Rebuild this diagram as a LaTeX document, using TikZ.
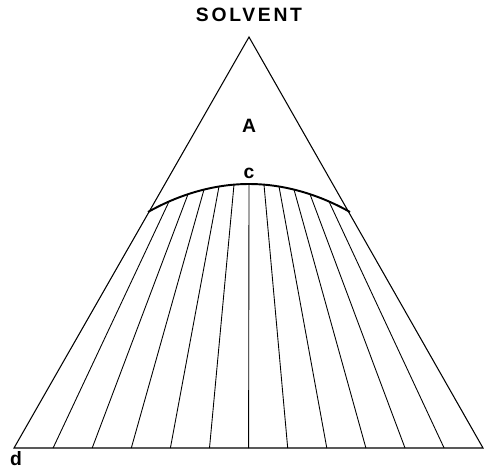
\documentclass[tikz,border=0pt]{standalone}
\usepackage{fontspec}
\newfontfamily\lblfont{Liberation Sans}
\usetikzlibrary{calc}

\begin{document}
\begin{tikzpicture}[
  x=0.02cm, y=-0.02cm,
  side/.style={line width=0.6pt, line join=miter},
  tie/.style={line width=0.5pt},
  binodal/.style={line width=1.1pt},
  lbl/.style={font=\lblfont\bfseries\fontsize{11}{13}\selectfont, inner sep=0pt},
  spaced/.style={font=\lblfont\bfseries\fontsize{11}{13}\selectfont\addfontfeature{LetterSpace=14}},
]
\useasboundingbox (0,0) rectangle (484,470);
%% Corners of the triangle
\coordinate (apex)  at (249,37);
\coordinate (left)  at (14,448);
\coordinate (right) at (483,448);
%% Ends and crest of the binodal curve
\coordinate (bl) at (148,212);
\coordinate (bt) at (249,184);
\coordinate (br) at (350,212);
%% Triangle
\draw[side] (left) -- (apex) -- (right) -- cycle;
%% Binodal curve
\draw[binodal] (bl) parabola bend (bt) (br);
%% Tie lines
\foreach \dt/\k in {-80/1,-61/2,-45/3,-30/4,-15/5,0/6,15/7,30/8,45/9,61/10,80/11}
  \draw[tie] ({249+\dt},{184+28*(\dt/101)*(\dt/101)}) -- ({14+\k*39.1},448);
%% Labels
\node[lbl, spaced] (solvent) at (249,15) {SOLVENT};
\node[lbl] (phaseA) at (249,126) {A};
\node[lbl, anchor=south] (plait) at (bt) [yshift=3pt] {c};
\node[lbl] (base) at (16,459) {d};
\end{tikzpicture}
\end{document}
